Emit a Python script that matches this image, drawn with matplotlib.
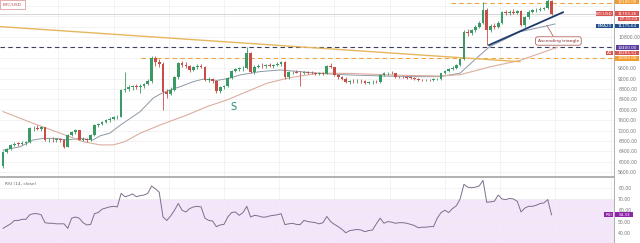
import numpy as np
import matplotlib.pyplot as plt
from matplotlib.patches import Rectangle

# daily candles (BTC/USD)
opens = [5840, 6390, 6480, 6660, 6700, 6690, 6720, 6750, 7290, 7310,
         7280, 7320, 6840, 6850, 6830, 6860, 6840, 6580, 7030, 7150,
         7210, 6850, 6880, 6820, 7030, 7410, 7470, 7540, 7600, 7660,
         7720, 7740, 8760, 8800, 8860, 8900, 8870, 8920, 8980, 9090,
         9980, 9850, 9780, 8700, 8620, 8760, 9270, 9790, 9740, 9700,
         9520, 9660, 9690, 9650, 9160, 9190, 9110, 8720, 8860, 8900,
         9210, 9500, 9560, 9590, 9620, 10170, 9450, 9660, 9700, 9680,
         9710, 9690, 9720, 9780, 9820, 9250, 9440, 9460, 9430, 9400,
         9450, 9430, 9410, 9380, 9400, 9380, 9690, 9640, 9340, 9250,
         9180, 9070, 9120, 9100, 9110, 9090, 9040, 9070, 9080, 9070,
         9340, 9410, 9420, 9400, 9270, 9260, 9250, 9240, 9230, 9190,
         9150, 9140, 9160, 9150, 9170, 9180, 9410, 9480, 9560, 9620,
         9720, 9950, 11000, 10950, 11050, 11200, 11330, 11840, 11070, 11230,
         11180, 11350, 11770, 11720, 11780, 11740, 11790, 11260, 11550, 11780,
         11820, 11850, 11880, 11910, 12200]
closes = [6390, 6480, 6660, 6700, 6690, 6720, 6750, 7290, 7310, 7280,
          7320, 6840, 6850, 6830, 6860, 6840, 6580, 7030, 7150, 7210,
          6850, 6880, 6820, 7030, 7410, 7470, 7540, 7600, 7660, 7720,
          7740, 8760, 8800, 8860, 8900, 8870, 8920, 8980, 9090, 9980,
          9850, 9780, 8700, 8620, 8760, 9270, 9790, 9740, 9700, 9520,
          9660, 9690, 9650, 9160, 9190, 9110, 8720, 8860, 8900, 9210,
          9500, 9560, 9590, 9620, 10170, 9450, 9660, 9700, 9680, 9710,
          9690, 9720, 9780, 9820, 9250, 9440, 9460, 9430, 9400, 9450,
          9430, 9410, 9380, 9400, 9380, 9690, 9640, 9340, 9250, 9180,
          9070, 9120, 9100, 9110, 9090, 9040, 9070, 9080, 9070, 9340,
          9410, 9420, 9400, 9270, 9260, 9250, 9240, 9230, 9190, 9150,
          9140, 9160, 9150, 9170, 9180, 9410, 9480, 9560, 9620, 9720,
          9950, 11000, 10950, 11050, 11200, 11330, 11840, 11070, 11230, 11180,
          11350, 11770, 11720, 11780, 11740, 11790, 11260, 11550, 11780, 11820,
          11850, 11880, 11910, 12200, 11700]
highs = [6420, 6530, 6700, 6760, 6780, 6790, 6800, 7330, 7380, 7400,
         7360, 7340, 6930, 6960, 6900, 6920, 6870, 7060, 7180, 7250,
         7230, 6950, 6920, 7060, 7450, 7500, 7580, 7640, 7720, 7780,
         7800, 8800, 9460, 8950, 8960, 9000, 8990, 9050, 9200, 10050,
         10060, 9950, 9820, 8800, 8880, 9300, 9820, 9880, 9820, 9720,
         9700, 9760, 9760, 9680, 9250, 9230, 9150, 8930, 8950, 9250,
         9520, 9620, 9650, 9680, 10400, 10220, 9720, 9780, 9800, 9760,
         9800, 9760, 9820, 9880, 9860, 9480, 9500, 9520, 9480, 9500,
         9500, 9480, 9460, 9440, 9450, 9720, 9800, 9660, 9380, 9300,
         9250, 9160, 9180, 9170, 9180, 9130, 9120, 9130, 9140, 9360,
         9440, 9470, 9480, 9420, 9310, 9300, 9290, 9280, 9260, 9230,
         9200, 9190, 9200, 9210, 9230, 9430, 9520, 9600, 9680, 9760,
         10000, 11050, 11100, 11100, 11250, 11400, 12150, 11900, 11300, 11320,
         11420, 11800, 11850, 11820, 11860, 11850, 11820, 11600, 11820, 11870,
         11900, 11950, 11960, 12450, 12240]
lows = [5780, 6350, 6450, 6600, 6620, 6640, 6660, 6720, 7200, 7240,
        7200, 6800, 6780, 6760, 6750, 6780, 6520, 6560, 6990, 7080,
        6820, 6800, 6760, 6800, 7000, 7350, 7400, 7480, 7540, 7620,
        7650, 7720, 8700, 8720, 8780, 8800, 8650, 8850, 8940, 9050,
        9700, 9650, 8000, 8450, 8560, 8720, 9200, 9650, 9600, 9450,
        9480, 9580, 9600, 9100, 9080, 9050, 8650, 8650, 8800, 8860,
        9170, 9450, 9480, 9500, 9580, 9400, 9380, 9600, 9620, 9600,
        9650, 9620, 9680, 9700, 9200, 9180, 9380, 9400, 8900, 9380,
        9380, 9370, 9340, 9330, 9330, 9360, 9600, 9300, 9200, 9130,
        9020, 9000, 9050, 9030, 9040, 8990, 9000, 9010, 9020, 9050,
        9300, 9350, 9360, 9240, 9220, 9210, 9200, 9190, 9150, 9120,
        9100, 9090, 9110, 9110, 9130, 9160, 9380, 9450, 9520, 9580,
        9700, 9920, 10850, 10880, 11000, 11150, 11300, 10500, 11000, 11120,
        11150, 11300, 11650, 11650, 11700, 11680, 11220, 11200, 11500, 11720,
        11760, 11800, 11820, 11880, 11650]

# moving averages
ema20_x = [0, 4.5, 7.9, 10.5, 14, 16.8, 20.2, 23.6, 25.5, 28, 30.7, 36, 39.4, 41.2,
           43, 46.5, 49.9, 52.5, 56.2, 59.6, 62.2, 67.5, 72.7, 78, 83.2, 91, 99.7,
           108.7, 114.7, 120, 124.4, 127.8, 135.7, 144.9]
ema20_y = [6450, 6580, 6840, 6900, 6900, 6840, 6900, 6840, 7000, 7100, 7400, 7930, 8450, 8600,
           8720, 8890, 9080, 9180, 9130, 9220, 9340, 9470, 9530, 9470, 9400, 9340, 9300,
           9275, 9275, 9410, 10000, 10430, 11000, 11300]
sma50_x = [0, 7.9, 15, 21, 25.5, 28.9, 32, 36, 41.2, 48.3, 53.5, 58.8, 64, 69.3, 74.5,
           78, 83.2, 91, 104, 114.7, 120, 127.8, 135.7, 145.4]
sma50_y = [7930, 7480, 7100, 6775, 6650, 6650, 6775, 7100, 7415, 7800, 8120, 8380, 8700, 9020, 9210,
           9300, 9410, 9400, 9330, 9300, 9350, 9650, 9900, 10400]

rsi = [44, 46, 48, 51, 51, 52, 52, 56, 57, 57,
       56, 49, 48.5, 48.5, 48, 48, 48, 44, 53, 54,
       53, 49, 47, 47.5, 57, 58, 61, 62, 63, 63.5,
       63, 75, 72, 73, 74.5, 72, 73, 73.5, 75, 81.5,
       79, 76, 54, 51, 55, 60, 66, 60, 58.5, 61.5,
       63, 63.5, 63, 53, 51, 50.5, 45.5, 47, 47.5, 54,
       58, 58.5, 55.5, 58, 63.5, 54, 55.5, 55, 54, 54,
       55, 55.5, 56, 57, 47.3, 48, 48.5, 47.5, 47.3, 51,
       50, 49.5, 49, 48, 49, 54.5, 50, 47.5, 45.5, 43,
       40, 42, 42.5, 43, 42.5, 41, 42, 42.5, 48, 53,
       48.5, 50, 49.5, 48.5, 49, 49, 48.5, 47.5, 46.5, 44.5,
       45, 45, 45.5, 45.5, 53, 58, 60, 58, 61.5, 64,
       70, 83, 80.5, 80, 80.5, 81.5, 86.5, 67, 67.5, 68,
       73.5, 70, 69.5, 70.5, 70, 68, 58.5, 62, 63.5, 63.5,
       64.5, 66, 66.5, 69.5, 56]

downtrend_x = [-0.8, 135.7]
downtrend_y = [11200, 9850]
triangle_x = [127.6, 147]
triangle_y = [10490, 11750]
top_level = 12100
mid_level = 10400
support_level = 10000
price_ticks = list(range(5600, 12001, 400))
hidden_ticks = [10000, 10400, 11200, 11600, 12000]
rsi_ticks = [40, 50, 60, 70, 80]

W, H = 640, 243
fig = plt.figure(figsize=(6.4, 2.43), dpi=100)
ax = fig.add_axes([0, 1 - 176 / H, 614 / W, 176 / H])
ax2 = fig.add_axes([0, 0, 614 / W, 66 / H])

up, down = '#3a9a66', '#c94d47'
o, c = np.array(opens), np.array(closes)
hi, lo = np.array(highs), np.array(lows)
x = np.arange(len(closes))
cols = np.where(c >= o, up, down)
ax.vlines(x, lo, hi, colors=cols, lw=0.6, zorder=3)
ax.bar(x, np.maximum(np.abs(c - o), 15), bottom=np.minimum(o, c), width=0.72,
       color=cols, zorder=4, linewidth=0)

ax.plot(ema20_x, ema20_y, color='#8d98a6', lw=0.7, zorder=2)
ax.plot(sma50_x, sma50_y, color='#dcae9f', lw=0.8, zorder=2)
ax.plot(downtrend_x, downtrend_y, color='#e6b75e', lw=1.0, zorder=2)
ax.plot(triangle_x, triangle_y, color='#1f3a6e', lw=1.3, zorder=5)

ax.axhline(mid_level, color='#3c4060', lw=0.8, ls=(0, (4, 3)), zorder=1)
ax.plot([36.2, 161], [support_level] * 2, color='#f0a640', lw=0.8, ls=(0, (4, 3)), zorder=1)
ax.plot([117.5, 161], [top_level] * 2, color='#f0a640', lw=0.8, ls=(0, (4, 3)), zorder=1)
ax.axhline(closes[-1], color='#cfcfcf', lw=0.6, zorder=1)

ax.text(60.4, 8120, 'S', color='#1e8f7e', fontsize=7, ha='center', va='center')
ax.text(145.8, 10646, 'Ascending triangle', fontsize=3.2, color='#8b2f2f',
        ha='center', va='center', zorder=6,
        bbox=dict(boxstyle='round,pad=0.5', fc='white', ec='#b5655f', lw=0.6))
ax.plot([144.4, 142.8], [10838, 11242], color='#b5655f', lw=0.6, zorder=6)

ax.set_xlim(-0.8, 160.4)
ax.set_ylim(5454, 12223)
ax.set_yticks(price_ticks)
ax.set_yticklabels(['' if t in hidden_ticks else f'{t}.00' for t in price_ticks])
ax.set_xticks(np.arange(14.5, 160, 14.5))
ax.grid(color='#efefef', lw=0.5)
ax.set_axisbelow(True)
for a in (ax, ax2):
    a.yaxis.tick_right()
    a.tick_params(axis='y', labelsize=3.3, colors='#777777', length=0, pad=3)
    a.tick_params(axis='x', length=0, labelbottom=False)
    for s in ('top', 'left'):
        a.spines[s].set_visible(False)
    a.spines['right'].set_color('#b0b0b0')
    a.spines['bottom'].set_color('#b0b0b0')
    a.spines['right'].set_linewidth(0.7)
    a.spines['bottom'].set_linewidth(0.7)

ax2.axhspan(30, 70, color='#f3e6fa', lw=0, zorder=0)
ax2.plot(x, rsi, color='#7d6f8c', lw=0.7, zorder=3)
ax2.set_xlim(-0.8, 160.4)
ax2.set_ylim(31, 89.5)
ax2.set_yticks(rsi_ticks)
ax2.set_yticklabels([f'{t}.00' for t in rsi_ticks])
ax2.set_xticks(np.arange(14.5, 160, 14.5))
ax2.grid(color='#efefef', lw=0.5)
ax2.set_axisbelow(True)
ax2.spines['top'].set_visible(True)
ax2.spines['top'].set_color('#b0b0b0')
ax2.spines['top'].set_linewidth(0.7)
ax2.text(0.008, 0.9, 'RSI (14, close)', transform=ax2.transAxes, fontsize=3.2,
         color='#666666', va='center')


def tag(x0, y0, x1, y1, text, color):
    fig.add_artist(Rectangle((x0 / W, 1 - y1 / H), (x1 - x0) / W, (y1 - y0) / H,
                             transform=fig.transFigure, fc=color, ec='none', zorder=10))
    fig.text((x0 + x1) / 2 / W, 1 - (y0 + y1) / 2 / H, text, ha='center', va='center',
             fontsize=3, color='white', zorder=11)


tag(615, 0, 639, 4.5, f'{top_level}.00', '#f29b2e')
tag(596, 11.5, 613, 16, 'BTCUSD', '#d9534f')
tag(615, 11.5, 639, 16, '11703.26', '#d9534f')
tag(618, 17, 639, 21.5, '07:15:03', '#d9534f')
tag(596, 24, 613, 28.5, 'EMA20', '#1f4e8c')
tag(615, 24, 639, 28.5, '11175.64', '#1f4e8c')
tag(616, 45.5, 639, 50, f'{mid_level}.00', '#5b3fa0')
tag(606, 51, 613, 55.5, 'A1', '#d9534f')
tag(615, 51, 639, 55.5, '10285.51', '#d9534f')
tag(615, 56, 639, 60.5, f'{support_level}.00', '#f29b2e')
tag(604, 212, 613, 217, 'RSI', '#8e24aa')
tag(615, 212, 633, 217, '54.33', '#8e24aa')

fig.text(3 / W, 1 - 4.5 / H, 'BTC/USD', fontsize=3.2, color='#c0504d', va='center',
         bbox=dict(boxstyle='square,pad=0.6', fc='white', ec='#e0a0a0', lw=0.6))

plt.savefig('out.png', dpi=100)
